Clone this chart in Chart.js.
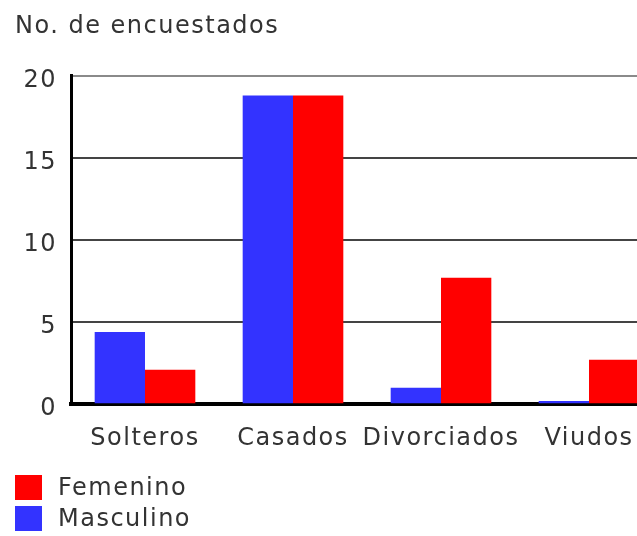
<!DOCTYPE html>
<html>
<head>
<meta charset="utf-8">
<script src="https://cdn.jsdelivr.net/npm/chart.js@4"></script>
<style>
  html, body { margin: 0; padding: 0; background: #fff; overflow: hidden; }
  #wrap { position: relative; width: 637px; height: 536px; overflow: hidden; }
  #myChart { position: absolute; left: 0; top: 0; }
  .leyenda { position: absolute; left: 15px; font: 24px "DejaVu Sans", sans-serif; letter-spacing: 1.5px; color: #333; }
  .leyenda div { height: 31px; line-height: 31px; white-space: nowrap; }
  .leyenda span { display: inline-block; width: 27px; height: 25px; vertical-align: -5px; margin-right: 16px; }
</style>
</head>
<body>
<div id="wrap">
  <canvas id="myChart" width="665" height="477"></canvas>
  <div class="leyenda" style="top: 472px;">
    <div><span style="background:#ff0000"></span>Femenino</div>
    <div><span style="background:#3333ff"></span>Masculino</div>
  </div>
</div>
<script>
const categorias = ['Solteros', 'Casados', 'Divorciados', 'Viudos'];
const masculino = [4.4, 18.8, 1.0, 0.2];
const femenino = [2.1, 18.8, 7.7, 2.7];
const ticksY = [0, 5, 10, 15, 20];

// el texto de la imagen es un poco mas ancho, se abre con letterSpacing
const espaciado = {
  id: 'espaciado',
  beforeUpdate(chart) { chart.ctx.letterSpacing = '1.5px'; },
  beforeDraw(chart) { chart.ctx.letterSpacing = '1.5px'; }
};

const fuente = { family: '"DejaVu Sans", sans-serif', size: 24, weight: 'normal' };

const ctx = document.getElementById('myChart');
const myChart = new Chart(ctx, {
  type: 'bar',
  data: {
    labels: categorias,
    datasets: [
      { label: 'Masculino', data: masculino, backgroundColor: '#3333ff' },
      { label: 'Femenino', data: femenino, backgroundColor: '#ff0000' }
    ]
  },
  options: {
    responsive: false,
    animation: false,
    layout: { padding: { left: 15, right: 2, top: 0, bottom: 4 } },
    categoryPercentage: 0.68,
    barPercentage: 1,
    plugins: {
      legend: { display: false },
      tooltip: { enabled: false },
      title: {
        display: true,
        text: 'No. de encuestados',
        align: 'start',
        color: '#333',
        font: fuente,
        padding: { top: 12, bottom: 35 }
      }
    },
    scales: {
      x: {
        grid: { display: false, drawTicks: false },
        border: { color: '#000', width: 4 },
        ticks: { color: '#333', font: fuente, padding: 20, maxRotation: 0, autoSkip: false }
      },
      y: {
        min: 0,
        max: 20,
        afterFit(scale) { scale.width = 56; },
        afterBuildTicks(scale) { scale.ticks = ticksY.map(v => ({ value: v })); },
        grid: {
          drawTicks: false,
          lineWidth: 2,
          color: (c) => c.tick && c.tick.value === 20 ? '#8a8a8a' : '#444'
        },
        border: { color: '#000', width: 3 },
        ticks: { color: '#333', font: fuente, padding: 14, labelOffset: 5 }
      }
    }
  },
  plugins: [espaciado]
});
</script>
</body>
</html>
